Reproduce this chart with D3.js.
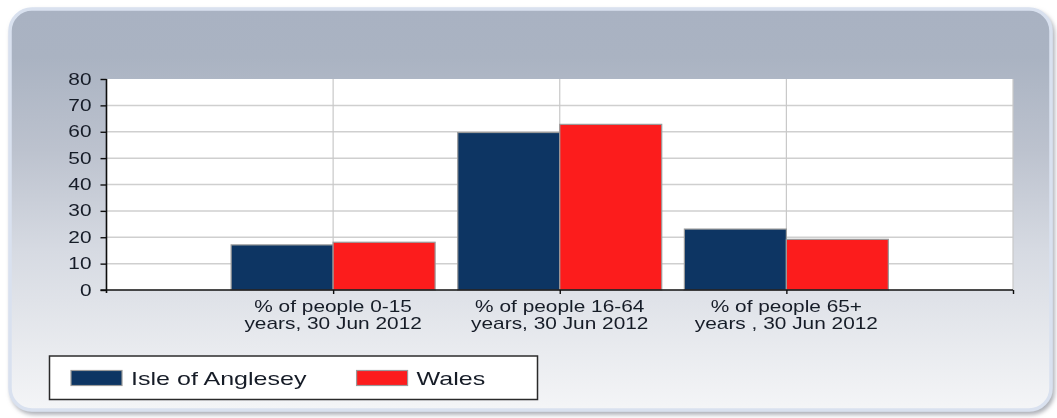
<!DOCTYPE html>
<html>
<head>
<meta charset="utf-8">
<script src="https://cdn.jsdelivr.net/npm/d3@7"></script>
<style>
  html, body { margin: 0; padding: 0; background: #ffffff; }
  svg { display: block; font-family: "Liberation Sans", Arial, sans-serif; }
</style>
</head>
<body>
<svg id="chart" width="1057" height="418"></svg>
<script>
// Population share by age band, mid-2012
const categories = [
  ["% of people 0-15", "years, 30 Jun 2012"],
  ["% of people 16-64", "years, 30 Jun 2012"],
  ["% of people 65+", "years , 30 Jun 2012"]
];
const seriesNames = ["Isle of Anglesey", "Wales"];
const angleseyValues = [17.1, 59.7, 23.1];
const walesValues = [18.1, 62.8, 19.2];
const yTicks = [0, 10, 20, 30, 40, 50, 60, 70, 80];

const colors = ["#0a3563", "#fc1c1f"];
const STRETCH = 1.32; // wide glyph rendering of the original chart control

const svg = d3.select("#chart");
const defs = svg.append("defs");

// Panel background gradient
const grad = defs.append("linearGradient")
  .attr("id", "panelGrad").attr("x1", 0).attr("y1", 0).attr("x2", 0).attr("y2", 1);
[[0, "#a9b2c2"], [0.12, "#aab3c2"], [0.35, "#bcc2ce"], [0.6, "#d6dae2"], [0.85, "#e9ebef"], [1, "#f4f5f7"]]
  .forEach(([o, c]) => grad.append("stop").attr("offset", o).attr("stop-color", c));

const shadow = defs.append("filter").attr("id", "panelShadow")
  .attr("x", "-5%").attr("y", "-5%").attr("width", "110%").attr("height", "115%");
shadow.append("feDropShadow").attr("dx", 2).attr("dy", 3).attr("stdDeviation", 2)
  .attr("flood-color", "#8a8f99").attr("flood-opacity", 0.7);

const soft = defs.append("filter").attr("id", "soft");
soft.append("feGaussianBlur").attr("stdDeviation", 0.35);

// Outer rounded panel
svg.append("rect")
  .attr("x", 10).attr("y", 9).attr("width", 1041).attr("height", 401)
  .attr("rx", 22).attr("ry", 22)
  .attr("fill", "url(#panelGrad)")
  .attr("stroke", "#d9e1ef").attr("stroke-width", 3.5)
  .attr("filter", "url(#panelShadow)");

// Plot geometry
const plot = { left: 106.5, right: 1013, top: 79, bottom: 290 };

const x = d3.scaleLinear().domain([0, categories.length + 1]).range([plot.left, plot.right]);
const y = d3.scaleLinear().domain([0, 80]).range([plot.bottom, plot.top]);
const barW = 0.45; // in category units

const g = svg.append("g").attr("filter", "url(#soft)");

// Plot background
g.append("rect")
  .attr("x", plot.left).attr("y", plot.top)
  .attr("width", plot.right - plot.left).attr("height", plot.bottom - plot.top)
  .attr("fill", "#ffffff");

// Horizontal gridlines
g.append("g").selectAll("line").data(yTicks.filter(d => d > 0 && d < 80)).join("line")
  .attr("x1", plot.left).attr("x2", plot.right)
  .attr("y1", d => y(d)).attr("y2", d => y(d))
  .attr("stroke", "#cfcfcf").attr("stroke-width", 1.5);

// Vertical gridlines at category positions and the right edge
const vGrid = d3.range(1, categories.length + 2);
g.append("g").selectAll("line").data(vGrid).join("line")
  .attr("x1", d => x(d)).attr("x2", d => x(d))
  .attr("y1", plot.top).attr("y2", plot.bottom)
  .attr("stroke", "#c8c8c8").attr("stroke-width", 1.2);

// Bars
const series = [angleseyValues, walesValues];
series.forEach((vals, si) => {
  g.append("g").selectAll("rect").data(vals).join("rect")
    .attr("x", (d, i) => x(i + 1) + (si === 0 ? -barW : 0) * (x(1) - x(0)))
    .attr("y", d => y(d))
    .attr("width", barW * (x(1) - x(0)))
    .attr("height", d => y(0) - y(d))
    .attr("fill", colors[si])
    .attr("stroke", "#9a9a9a").attr("stroke-width", 1.2);
});

// Y axis
const yAxis = g.append("g")
  .attr("transform", `translate(${plot.left},0)`)
  .call(d3.axisLeft(y).tickValues(yTicks).tickSize(6).tickPadding(9).tickSizeOuter(0));
yAxis.select(".domain").attr("stroke", "#111").attr("stroke-width", 1.6)
  .attr("d", `M0,${plot.top}V${plot.bottom + 3}`);
yAxis.selectAll(".tick line").attr("stroke", "#111").attr("stroke-width", 1.4);
yAxis.selectAll(".tick text")
  .attr("fill", "#161c28").style("font-size", "15.8px")
  .attr("transform", `translate(-15,0) scale(${STRETCH},1) translate(15,0)`);

// X axis
const xAxis = g.append("g")
  .attr("transform", `translate(0,${plot.bottom})`)
  .call(d3.axisBottom(x).tickValues(vGrid).tickSize(4).tickFormat("").tickSizeOuter(0));
xAxis.select(".domain").attr("stroke", "#111").attr("stroke-width", 1.6)
  .attr("d", `M${plot.left - 6},0H${plot.right}`);
xAxis.selectAll(".tick line").attr("stroke", "#111").attr("stroke-width", 1.4);

// Category labels (two lines)
const labels = g.append("g").selectAll("g").data(categories).join("g")
  .attr("transform", (d, i) => `translate(${x(i + 1)},${plot.bottom}) scale(${STRETCH},1)`);
labels.each(function (lines) {
  const t = d3.select(this).append("text")
    .attr("text-anchor", "middle").attr("fill", "#161c28").style("font-size", "15.8px");
  lines.forEach((ln, k) => {
    t.append("tspan").attr("x", 0).attr("y", 22 + k * 17).text(ln);
  });
});

// Legend
const legend = svg.append("g").attr("filter", "url(#soft)");
const lgBox = { x: 49.5, y: 356, w: 488, h: 43.5 };
legend.append("rect")
  .attr("x", lgBox.x).attr("y", lgBox.y).attr("width", lgBox.w).attr("height", lgBox.h)
  .attr("fill", "#ffffff").attr("stroke", "#2b2b2b").attr("stroke-width", 1.5);

let cursor = lgBox.x + 21.5;
seriesNames.forEach((name, i) => {
  const item = legend.append("g").attr("transform", `translate(${cursor},0)`);
  item.append("rect")
    .attr("x", 0).attr("y", 370.5).attr("width", 51).attr("height", 15)
    .attr("fill", colors[i]).attr("stroke", "#9a9a9a").attr("stroke-width", 1.2);
  const t = item.append("text")
    .attr("x", 0).attr("y", 385)
    .attr("transform", `translate(60,0) scale(${STRETCH},1)`)
    .attr("fill", "#161c28").style("font-size", "19px")
    .text(name);
  const w = t.node().getComputedTextLength() * STRETCH;
  cursor += 60 + w + 50;
});
</script>
</body>
</html>
